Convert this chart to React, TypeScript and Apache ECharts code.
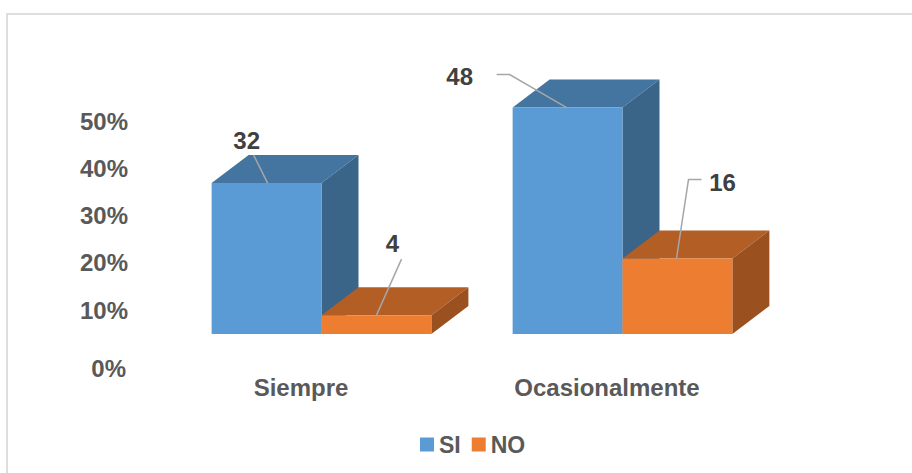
import React, { useEffect, useRef } from "react";
import * as echarts from "echarts";

const categories = ["Siempre", "Ocasionalmente"];
const siValues = [32, 48];
const noValues = [4, 16];
const percentTicks = [0, 10, 20, 30, 40, 50];

const FONT = '"Liberation Sans", Arial, sans-serif';
const DEPTH_X = 37;
const DEPTH_Y = 28;
const BAR_BAND_SHARE = 0.365;

type Palette = { front: string; top: string; side: string };
const SI_COLORS: Palette = { front: "#5B9BD5", top: "#4475A0", side: "#3A6488" };
const NO_COLORS: Palette = { front: "#ED7D31", top: "#B25E25", side: "#9A511F" };

// Leader-line routes and label spots, relative to the bar's front top-left corner.
type Callout = { line: number[][]; text: number[] };
const SI_CALLOUTS: Callout[] = [
  { line: [[56, 0], [42, -28]], text: [35, -43] },
  { line: [[54, 0], [-3, -33], [-16, -33]], text: [-53, -31] },
];
const NO_CALLOUTS: Callout[] = [
  { line: [[55, 0], [80, -56]], text: [71, -72] },
  { line: [[54, 0], [66, -79], [79, -79]], text: [100, -76] },
];

function barRenderer(colors: Palette, callouts: Callout[], side: -1 | 1) {
  return (params: any, api: any) => {
    const cat = api.value(0);
    const value = api.value(1);
    const [cx, top] = api.coord([cat, value]);
    const [, base] = api.coord([cat, 0]);
    const width = api.size([1, 0])[0] * BAR_BAND_SHARE;
    const x0 = side < 0 ? cx - width : cx;
    const x1 = x0 + width;
    const callout = callouts[params.dataIndex];
    const poly = (points: number[][], fill: string) => ({
      type: "polygon",
      shape: { points },
      style: { fill },
    });
    return {
      type: "group",
      children: [
        poly(
          [[x0, top], [x0 + DEPTH_X, top - DEPTH_Y], [x1 + DEPTH_X, top - DEPTH_Y], [x1, top]],
          colors.top,
        ),
        poly(
          [[x1, top], [x1 + DEPTH_X, top - DEPTH_Y], [x1 + DEPTH_X, base - DEPTH_Y], [x1, base]],
          colors.side,
        ),
        poly([[x0, top], [x1, top], [x1, base], [x0, base]], colors.front),
        {
          type: "polyline",
          shape: { points: callout.line.map(([dx, dy]) => [x0 + dx, top + dy]) },
          style: { stroke: "#A6A6A6", lineWidth: 1.5, fill: "none" },
        },
        {
          type: "text",
          x: x0 + callout.text[0],
          y: top + callout.text[1],
          style: {
            text: String(value),
            fill: "#404040",
            font: `bold 24px ${FONT}`,
            align: "center",
            verticalAlign: "middle",
          },
        },
      ],
    };
  };
}

export default function App() {
  const ref = useRef<HTMLDivElement>(null);

  useEffect(() => {
    const chart = echarts.init(ref.current!, undefined, { renderer: "svg" });
    chart.setOption({
      animation: false,
      backgroundColor: "#ffffff",
      graphic: [
        {
          type: "rect",
          shape: { x: 7, y: 14, width: 1000, height: 600 },
          style: { fill: "none", stroke: "#DEDEDE", lineWidth: 2 },
          silent: true,
        },
      ],
      grid: [
        { left: 171, width: 602, top: 51, height: 283 },
        { left: 148, width: 612, top: 121, height: 236.5 },
      ],
      xAxis: [
        { type: "category", gridIndex: 0, data: categories, show: false },
        {
          type: "category",
          gridIndex: 1,
          data: categories,
          axisLine: { show: false },
          axisTick: { show: false },
          axisLabel: {
            margin: 18,
            color: "#595959",
            fontFamily: FONT,
            fontWeight: "bold",
            fontSize: 24,
          },
        },
      ],
      yAxis: [
        { type: "value", gridIndex: 0, min: 0, max: 60, show: false },
        {
          type: "value",
          gridIndex: 1,
          min: percentTicks[0],
          max: percentTicks[percentTicks.length - 1],
          interval: 10,
          axisLine: { show: false },
          axisTick: { show: false },
          splitLine: { show: false },
          axisLabel: {
            margin: 20,
            color: "#595959",
            fontFamily: FONT,
            fontWeight: "bold",
            fontSize: 24,
            formatter: (v: number) => (v === 0 ? `{low|${v}%}` : `${v}%`),
            rich: {
              low: {
                color: "#595959",
                fontFamily: FONT,
                fontWeight: "bold",
                fontSize: 24,
                padding: [21, 2, 0, 0],
              },
            },
          },
        },
      ],
      legend: {
        left: 415,
        top: 428,
        itemWidth: 14,
        itemHeight: 14,
        itemGap: 11,
        icon: "rect",
        data: ["SI", "NO"],
        textStyle: {
          color: "#595959",
          fontFamily: FONT,
          fontWeight: "bold",
          fontSize: 23,
        },
      },
      series: [
        {
          type: "custom",
          name: "SI",
          xAxisIndex: 0,
          yAxisIndex: 0,
          clip: false,
          itemStyle: { color: SI_COLORS.front },
          encode: { x: 0, y: 1 },
          data: siValues.map((v, i) => [i, v]),
          renderItem: barRenderer(SI_COLORS, SI_CALLOUTS, -1),
        },
        {
          type: "custom",
          name: "NO",
          xAxisIndex: 0,
          yAxisIndex: 0,
          clip: false,
          itemStyle: { color: NO_COLORS.front },
          encode: { x: 0, y: 1 },
          data: noValues.map((v, i) => [i, v]),
          renderItem: barRenderer(NO_COLORS, NO_CALLOUTS, 1),
        },
      ],
    });
    return () => chart.dispose();
  }, []);

  return (
    <div
      ref={ref}
      style={{ position: "absolute", left: 0, top: 0, width: 912, height: 473 }}
    />
  );
}
